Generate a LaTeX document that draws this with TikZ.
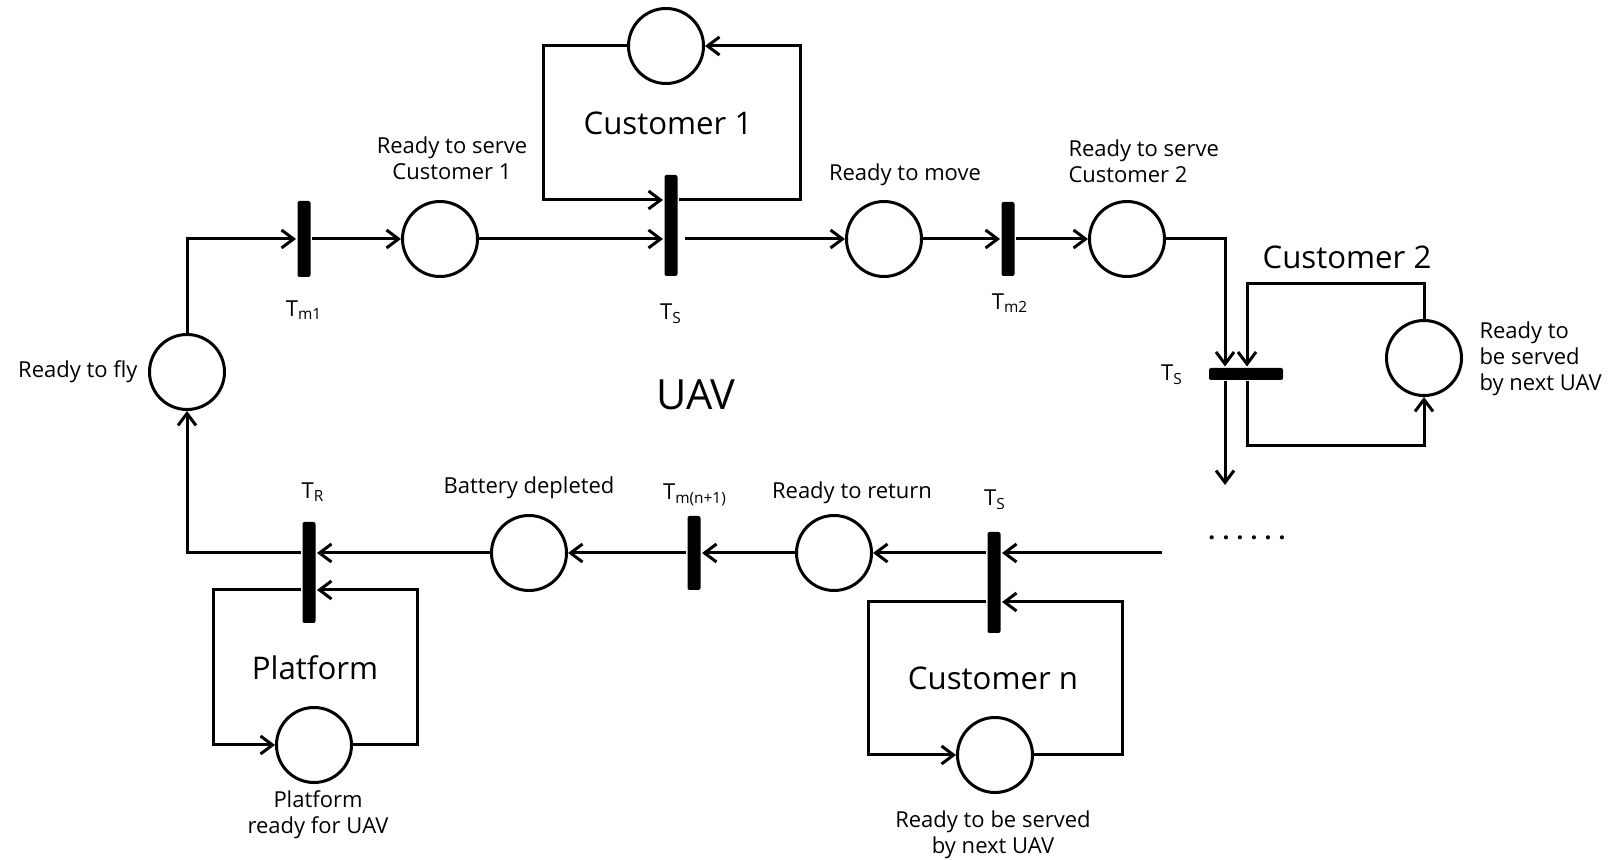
\documentclass[tikz,border=0pt]{standalone}
\usepackage{fontspec}
\setmainfont{Open Sans}
\usetikzlibrary{arrows.meta}
\newcommand\tsub[1]{T\textsubscript{#1}}
\begin{document}
\begin{tikzpicture}[x=0.5pt,y=-0.5pt, line width=1.5pt,
 arr/.style={-{Straight Barb[length=6pt,width=9pt]}},
 place/.style={circle,draw,minimum size=37.5pt,inner sep=0pt},
 trans/.style={fill=black,rounded corners=1pt,inner sep=0pt,minimum width=6.5pt},
 lbl/.style={font=\fontsize{11}{13}\selectfont, inner sep=0pt, align=center},
 big/.style={font=\fontsize{15.6}{18}\selectfont, inner sep=0pt}]
\useasboundingbox (0,0) rectangle (1624,860);
% places
\node[place] (pFly) at (187,372) {};
\node[place] (pRS1) at (440,239) {};
\node[place] (pC1) at (666,46) {};
\node[place] (pMove) at (884,239) {};
\node[place] (pRS2) at (1127,239) {};
\node[place] (pC2) at (1424,358) {};
\node[place] (pRet) at (834,553) {};
\node[place] (pBat) at (529,553) {};
\node[place] (pPlat) at (314,745) {};
\node[place] (pCn) at (995,755) {};
% transitions
\node[trans,minimum height=38pt] (tM1) at (304,239) {};
\node[trans,minimum height=50.5pt] (tS1) at (671,225.5) {};
\node[trans,minimum height=37pt] (tM2) at (1008,239) {};
\node[trans,minimum width=37pt,minimum height=6pt] (tS2) at (1246,374) {};
\node[trans,minimum height=50.5pt] (tSn) at (994,582.5) {};
\node[trans,minimum height=37pt] (tMn1) at (694,553) {};
\node[trans,minimum height=50.5pt] (tR) at (309,572.5) {};
% helper coordinates
\coordinate (xA) at (1225,0);
\coordinate (c1bl) at (543,200);
\coordinate (c1br) at (800,200);
\coordinate (c2tl) at (1247,284);
\coordinate (c2bl) at (1247,446);
\coordinate (c2br) at (1424,446);
\coordinate (dn) at (1225,485);
\coordinate (inN) at (1162,553);
\coordinate (cntl) at (868,602);
\coordinate (cntr) at (1122,602);
\coordinate (pltl) at (213,590);
\coordinate (pltr) at (417,590);
% top row
\draw[arr] (pFly.north) |- (tM1.west);
\draw[arr] (tM1.east) -- (pRS1.west);
\draw[arr] (pRS1.east) -- (tS1.west |- pRS1.east);
\draw[arr,shorten <=3pt] (tS1.east |- pMove.west) -- (pMove.west);
\draw[arr] (pMove.east) -- (tM2.west);
\draw[arr] (tM2.east) -- (pRS2.west);
\draw[arr] (pRS2.east) -| (tS2.north -| xA);
% customer 1
\draw[arr] (pC1.west) -| (c1bl) -- (c1bl -| tS1.west);
\draw[arr] (tS1.east |- c1br) -- (c1br) |- (pC1.east);
% customer 2
\draw[arr] (pC2.north) |- (c2tl) -- (tS2.north -| c2tl);
\draw[arr] (tS2.south -| c2bl) -- (c2bl) -- (c2br) -- (pC2.south);
\draw[arr] (tS2.south -| dn) -- (dn);
% bottom row
\draw[arr] (inN) -- (inN -| tSn.east);
\draw[arr] (tSn.west |- pRet.east) -- (pRet.east);
\draw[arr] (pRet.west) -- (tMn1.east |- pRet.west);
\draw[arr] (tMn1.west) -- (pBat.east);
\draw[arr] (pBat.west) -- (tR.east |- pBat.west);
\draw[arr] (tR.west |- pBat.west) -| (pFly.south);
% customer n
\draw[arr] (pCn.east) -| (cntr) -- (cntr -| tSn.east);
\draw[arr] (tSn.west |- cntl) -- (cntl) |- (pCn.west);
% platform
\draw[arr] (pPlat.east) -| (pltr) -- (pltr -| tR.east);
\draw[arr] (tR.west |- pltl) -- (pltl) |- (pPlat.west);
% labels
\node[lbl,anchor=east] (lFly) at (139,372) {Ready to fly};
\node[lbl] (lRS1) at (452,158) {Ready to serve\\Customer 1};
\node[lbl] (lTm1) at (304,310) {\tsub{m1}};
\node[big] (lC1) at (668,123) {Customer 1};
\node[lbl] (lTs1) at (671,314) {\tsub{S}};
\node[lbl] (lMove) at (905,175) {Ready to move};
\node[lbl,anchor=west,align=left] (lRS2) at (1067,161) {Ready to serve\\Customer 2};
\node[lbl] (lTm2) at (1010,303) {\tsub{m2}};
\node[big] (lC2) at (1347,257) {Customer 2};
\node[lbl] (lTs2) at (1172,375) {\tsub{S}};
\node[lbl,anchor=west,align=left] (lNext2) at (1478,359) {Ready to\\be served\\by next UAV};
\node[font=\fontsize{20.8}{24}\selectfont,inner sep=0pt] (lUAV) at (696,395) {UAV};
\node[lbl] (lTR) at (313,492) {\tsub{R}};
\node[lbl] (lBat) at (529,488) {Battery depleted};
\node[lbl] (lTmn) at (695,495) {\tsub{m(n+1)}};
\node[lbl] (lRet) at (852,493) {Ready to return};
\node[lbl] (lTsn) at (995,500) {\tsub{S}};
\node[lbl,font=\fontsize{12}{13}\selectfont\bfseries] (ldots) at (1247,538) {.\hspace{3.6pt}.\hspace{3.6pt}.\hspace{3.6pt}.\hspace{3.6pt}.\hspace{3.6pt}.};
\node[big] (lPlat) at (315,668) {Platform};
\node[lbl] (lPlatR) at (318,815) {Platform\\ready for UAV};
\node[big] (lCn) at (993,678) {Customer n};
\node[lbl] (lNextn) at (993,835) {Ready to be served\\by next UAV};
\end{tikzpicture}
\end{document}
